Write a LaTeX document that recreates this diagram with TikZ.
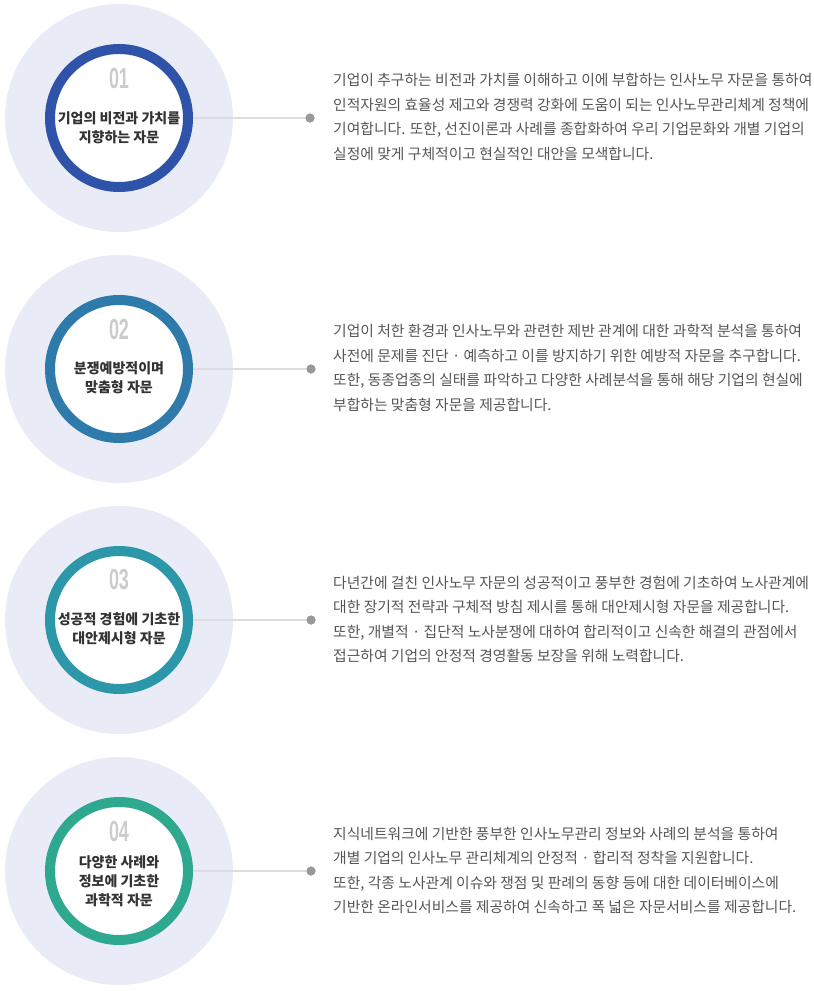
\documentclass[tikz,border=0pt]{standalone}
\usepackage{fontspec}
\usepackage{graphicx}
\setmainfont{Liberation Sans}
\newfontfamily\kr{Noto Sans CJK KR}
\newfontfamily\numfont{Liberation Sans}
\definecolor{bgc}{HTML}{E9ECF6}
\definecolor{ringA}{HTML}{2F53A9}
\definecolor{ringB}{HTML}{2E7BAB}
\definecolor{ringC}{HTML}{2B97A9}
\definecolor{ringD}{HTML}{2EA98F}
\definecolor{numc}{HTML}{CCCCCC}
\definecolor{titlec}{HTML}{333333}
\definecolor{parac}{HTML}{555555}
\definecolor{linec}{HTML}{DCDCE2}
\definecolor{dotc}{HTML}{999999}
\tikzset{
  bgdisc/.style={circle, fill=bgc, minimum size=228pt, inner sep=0pt, outer sep=0pt},
  ring/.style={circle, draw=#1, line width=10pt, fill=white, minimum size=138pt, inner sep=0pt},
  conn/.style={draw=linec, line width=1.5pt},
  dotmark/.style={circle, fill=dotc, minimum size=9pt, inner sep=0pt},
  numlabel/.style={font=\numfont\bfseries\fontsize{29}{29}\selectfont, text=numc, inner sep=0pt},
  titlelabel/.style={font=\kr\bfseries\fontsize{14}{19}\selectfont, text=titlec, align=center, inner sep=0pt},
  paralabel/.style={font=\kr\fontsize{14.8}{24.5}\selectfont, text=parac, align=left, inner sep=0pt, anchor=west}
}
\begin{document}
\begin{tikzpicture}[x=1pt,y=-1pt]
\useasboundingbox (0,0) rectangle (814,991);
% item 1
\node[bgdisc] (bg1) at (119,118) {};
\node[ring=ringA] (r1) at (119,118) {};
\node[dotmark] (d1) at (310,118) {};
\draw[conn] (r1.east) -- (d1.center);
\node[dotmark] at (d1) {};
\node[numlabel] (n1) at (119,79) {\scalebox{0.62}[1]{01}};
\node[titlelabel] (t1) at (119,127.5) {기업의 비전과 가치를\\지향하는 자문};
\node[paralabel] (p1) at (333,117) {기업이 추구하는 비전과 가치를 이해하고 이에 부합하는 인사노무 자문을 통하여\\인적자원의 효율성 제고와 경쟁력 강화에 도움이 되는 인사노무관리체계 정책에\\기여합니다. 또한, 선진이론과 사례를 종합화하여 우리 기업문화와 개별 기업의\\실정에 맞게 구체적이고 현실적인 대안을 모색합니다.};
% item 2
\node[bgdisc] (bg2) at (119,369) {};
\node[ring=ringB] (r2) at (119,369) {};
\node[dotmark] (d2) at (311,369) {};
\draw[conn] (r2.east) -- (d2.center);
\node[dotmark] at (d2) {};
\node[numlabel] (n2) at (119,330) {\scalebox{0.62}[1]{02}};
\node[titlelabel] (t2) at (119,377.5) {분쟁예방적이며\\맞춤형 자문};
\node[paralabel] (p2) at (333,368) {기업이 처한 환경과 인사노무와 관련한 제반 관계에 대한 과학적 분석을 통하여\\사전에 문제를 진단 · 예측하고 이를 방지하기 위한 예방적 자문을 추구합니다.\\또한, 동종업종의 실태를 파악하고 다양한 사례분석을 통해 해당 기업의 현실에\\부합하는 맞춤형 자문을 제공합니다.};
% item 3
\node[bgdisc] (bg3) at (119,620) {};
\node[ring=ringC] (r3) at (119,620) {};
\node[dotmark] (d3) at (311,620) {};
\draw[conn] (r3.east) -- (d3.center);
\node[dotmark] at (d3) {};
\node[numlabel] (n3) at (119,580) {\scalebox{0.62}[1]{03}};
\node[titlelabel] (t3) at (119,628.5) {성공적 경험에 기초한\\대안제시형 자문};
\node[paralabel] (p3) at (333,619.5) {다년간에 걸친 인사노무 자문의 성공적이고 풍부한 경험에 기초하여 노사관계에\\대한 장기적 전략과 구체적 방침 제시를 통해 대안제시형 자문을 제공합니다.\\또한, 개별적 · 집단적 노사분쟁에 대하여 합리적이고 신속한 해결의 관점에서\\접근하여 기업의 안정적 경영활동 보장을 위해 노력합니다.};
% item 4
\node[bgdisc] (bg4) at (119,871) {};
\node[ring=ringD] (r4) at (119,871) {};
\node[dotmark] (d4) at (311,871) {};
\draw[conn] (r4.east) -- (d4.center);
\node[dotmark] at (d4) {};
\node[numlabel] (n4) at (119,832) {\scalebox{0.62}[1]{04}};
\node[titlelabel] (t4) at (119,881) {다양한 사례와\\정보에 기초한\\과학적 자문};
\node[paralabel] (p4) at (333,870.5) {지식네트워크에 기반한 풍부한 인사노무관리 정보와 사례의 분석을 통하여\\개별 기업의 인사노무 관리체계의 안정적 · 합리적 정착을 지원합니다.\\또한, 각종 노사관계 이슈와 쟁점 및 판례의 동향 등에 대한 데이터베이스에\\기반한 온라인서비스를 제공하여 신속하고 폭 넓은 자문서비스를 제공합니다.};
\end{tikzpicture}
\end{document}
